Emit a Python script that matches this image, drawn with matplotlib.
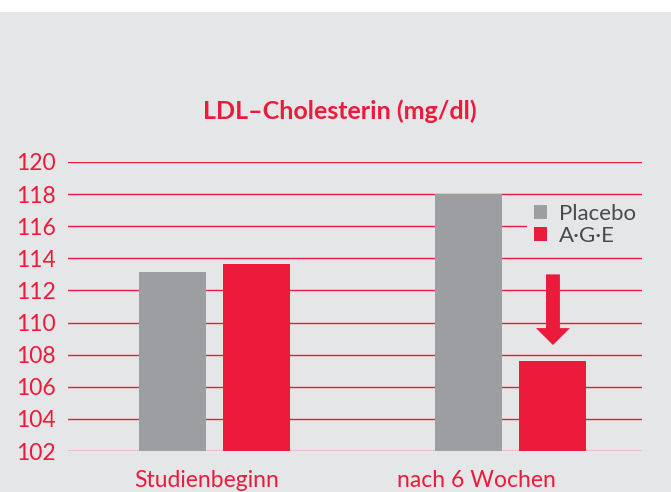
import numpy as np
import matplotlib
matplotlib.use('Agg')
import matplotlib.pyplot as plt
from matplotlib.patches import Patch, Rectangle

# data
groups = ['Studienbeginn', 'nach 6 Wochen']
placebo = [113.15, 118.0]
age = [113.65, 107.6]
series_names = ['Placebo', 'A\u00b7G\u00b7E']
yticks = [102, 104, 106, 108, 110, 112, 114, 116, 118, 120]
arrow_from = 113.0
arrow_to = 108.6

red = '#ed1b3b'
grey = '#9d9ea1'
bg = '#e5e6e8'

plt.rcParams['font.family'] = ['Lato', 'DejaVu Sans']

W, H = 671, 492
fig = plt.figure(figsize=(W / 100., H / 100.), dpi=100, facecolor='white')
# grey panel below a thin white strip
fig.patches.append(Rectangle((0, 0), 1, 1 - 12. / H, transform=fig.transFigure,
                             facecolor=bg, edgecolor='none', zorder=-10))

# axes box in pixels: x 68..642, y 162 (120) .. 451 (102)
ax = fig.add_axes([68. / W, 1 - 451. / H, (642. - 68.) / W, (451. - 162.) / H])
ax.set_facecolor('none')
for s in ax.spines.values():
    s.set_visible(False)

x = np.arange(len(groups))
bw = 0.226
off = 0.1417
ax.bar(x - off, np.array(placebo) - 102, bw, bottom=102, color=grey, zorder=3)
ax.bar(x + off, np.array(age) - 102, bw, bottom=102, color=red, zorder=3)

for yv in yticks:
    ax.axhline(yv, color=red, lw=1.0, zorder=1)

ax.set_xlim(-0.494, 1.442)
ax.set_ylim(102, 120)
ax.set_yticks(yticks)
ax.set_yticklabels([str(v) for v in yticks])
ax.tick_params(axis='y', length=0, pad=9, labelsize=16.5, labelcolor=red)
ax.set_xticks([-0.027, 0.882])
ax.set_xticklabels(groups)
ax.tick_params(axis='x', length=0, pad=14, labelsize=16.5, labelcolor=red)

# arrow above the A.G.E bar after 6 weeks
ax.annotate('', xy=(x[1] + off, arrow_to), xytext=(x[1] + off, arrow_from),
            arrowprops=dict(width=10, headwidth=24.5, headlength=12.2,
                            shrink=0, facecolor=red, edgecolor='none'),
            zorder=4)

handles = [Patch(facecolor=grey, edgecolor='none'), Patch(facecolor=red, edgecolor='none')]
leg = ax.legend(handles, series_names, loc='upper left',
                bbox_to_anchor=(527. / W, 1 - 197. / H), bbox_transform=fig.transFigure,
                fontsize=16, frameon=True, facecolor=bg, edgecolor='none', framealpha=1,
                fancybox=False, handlelength=0.58, handleheight=0.58, handletextpad=0.55,
                labelspacing=0.1, borderpad=0.3, borderaxespad=0)
for t in leg.get_texts():
    t.set_color('#4a4a4c')
leg.set_zorder(5)

fig.text(340. / W, 1 - 119. / H, 'LDL\u2013Cholesterin (mg/dl)', ha='center', va='baseline',
         fontsize=18, fontweight='bold', color=red)

fig.savefig('out.png', dpi=100, facecolor=fig.get_facecolor())
